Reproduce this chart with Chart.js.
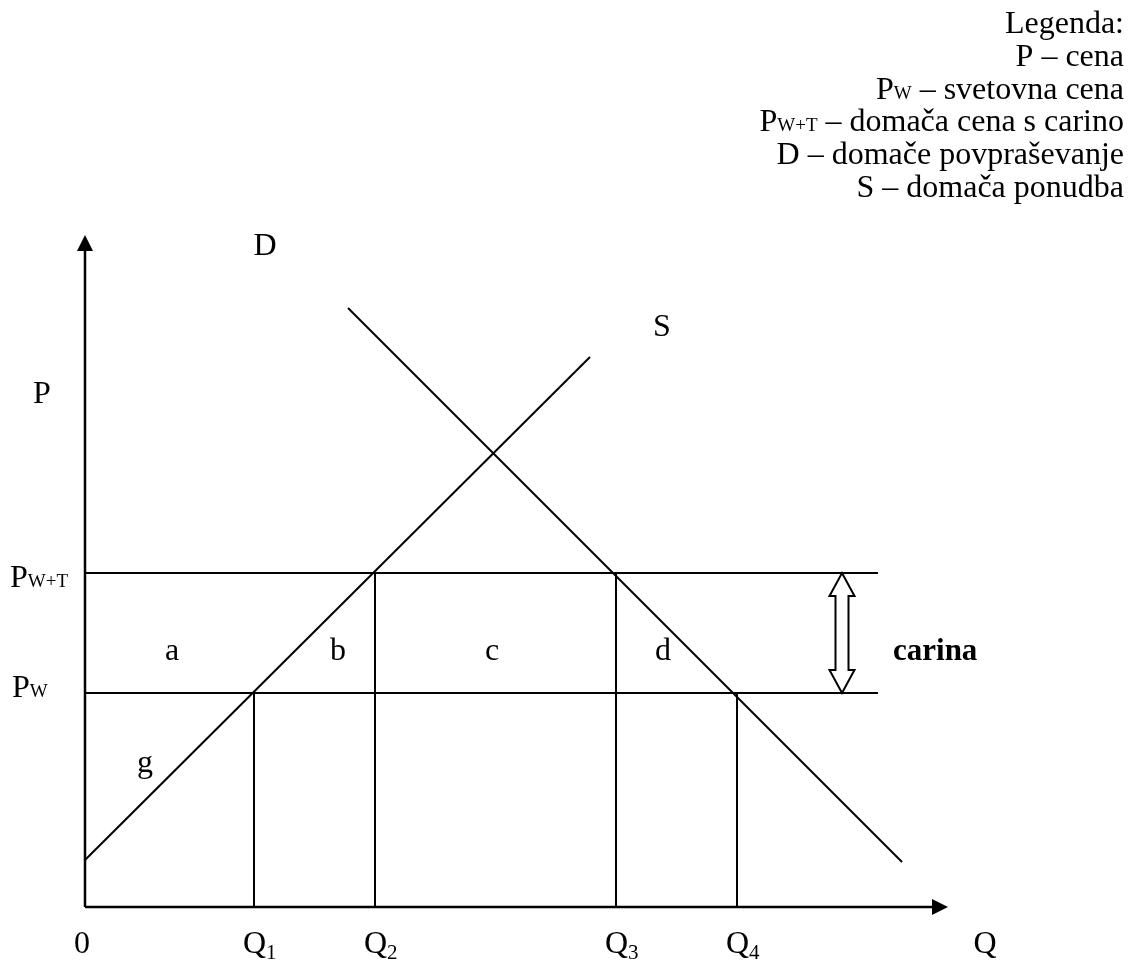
<!DOCTYPE html>
<html>
<head>
<meta charset="utf-8">
<script src="https://cdn.jsdelivr.net/npm/chart.js@4.4.0/dist/chart.umd.min.js"></script>
<style>
  body { margin: 0; background: #fff; }
  canvas { display: block; }
</style>
</head>
<body>
<canvas id="tariffChart" width="1131" height="962"></canvas>
<script>
// quantities on the Q axis (0, Q1..Q4) and the axis name position
const qNames = ['0', 'Q', 'Q', 'Q', 'Q'];
const qSubs = ['', '1', '2', '3', '4'];
const qPos = [0, 16.9, 29.0, 53.1, 65.2];
const qAxisPos = 90.0;

// price levels
const pw = 21.4;      // world price
const pwt = 33.4;     // world price + tariff
const lineEnd = 79.3; // where the price lines stop
const tariffQ = 75.7; // the double arrow "carina"

// curves
const supplyQ = [0, 50.5];
const supplyP = [4.7, 55.0];
const demandQ = [26.3, 81.7];
const demandP = [59.9, 4.5];

// vertical drops from Q1..Q4 up to the price lines
const dropTop = [pw, pwt, pwt, pw];

// letters inside the diagram
const areaLabels = ['a', 'b', 'c', 'd', 'g'];
const areaQ = [8.7, 25.3, 40.7, 57.8, 6.0];
const areaP = [24.7, 24.7, 24.7, 24.7, 13.5];

const legendLines = [
    [['Legenda:', 1]],
    [['P – cena', 1]],
    [['P', 1], ['W', 0.6], [' – svetovna cena', 1]],
    [['P', 1], ['W+T', 0.6], [' – domača cena s carino', 1]],
    [['D – domače povpraševanje', 1]],
    [['S – domača ponudba', 1]]
];

const FONT = '"Liberation Serif", "Times New Roman", serif';
const SIZE = 32;

const zip = (xs, ys) => xs.map((v, i) => ({ x: v, y: ys[i] }));

const lineSet = (data) => ({
    data: data,
    showLine: true,
    borderColor: '#000',
    borderWidth: 2,
    pointRadius: 0,
    fill: false,
    clip: false
});

const datasets = [
    lineSet(zip(supplyQ, supplyP)),
    lineSet(zip(demandQ, demandP)),
    lineSet([{ x: 0, y: pw }, { x: lineEnd, y: pw }]),
    lineSet([{ x: 0, y: pwt }, { x: lineEnd, y: pwt }])
];
qPos.slice(1).forEach((q, i) => {
    datasets.push(lineSet([{ x: q, y: 0 }, { x: q, y: dropTop[i] }]));
});

// draws text made of parts with different sizes on one baseline
const drawParts = (ctx, parts, x, y, align) => {
    let total = 0;
    parts.forEach(p => {
        ctx.font = (p.bold ? 'bold ' : '') + Math.round(SIZE * p.s) + 'px ' + FONT;
        total += ctx.measureText(p.t).width;
    });
    let cx = align === 'right' ? x - total : align === 'center' ? x - total / 2 : x;
    ctx.textAlign = 'left';
    ctx.textBaseline = 'alphabetic';
    parts.forEach(p => {
        ctx.font = (p.bold ? 'bold ' : '') + Math.round(SIZE * p.s) + 'px ' + FONT;
        ctx.fillText(p.t, cx, y + (p.dy || 0));
        cx += ctx.measureText(p.t).width;
    });
};

const diagramPlugin = {
    id: 'diagram',
    afterDatasetsDraw(chart) {
        const { ctx, chartArea: a, scales: { x, y } } = chart;
        ctx.save();
        ctx.fillStyle = '#000';
        ctx.strokeStyle = '#000';

        // axes with arrow heads
        ctx.lineWidth = 2.5;
        ctx.beginPath();
        ctx.moveTo(a.left, a.bottom);
        ctx.lineTo(a.left, a.top + 12);
        ctx.moveTo(a.left, a.bottom);
        ctx.lineTo(a.right - 12, a.bottom);
        ctx.stroke();
        ctx.beginPath();
        ctx.moveTo(a.left, a.top);
        ctx.lineTo(a.left - 8, a.top + 16);
        ctx.lineTo(a.left + 8, a.top + 16);
        ctx.closePath();
        ctx.fill();
        ctx.beginPath();
        ctx.moveTo(a.right, a.bottom);
        ctx.lineTo(a.right - 16, a.bottom - 8);
        ctx.lineTo(a.right - 16, a.bottom + 8);
        ctx.closePath();
        ctx.fill();

        // hollow double arrow for the tariff
        const cx = x.getPixelForValue(tariffQ);
        const top = y.getPixelForValue(pwt);
        const bot = y.getPixelForValue(pw);
        const sw = 6.5, hw = 12.5, hl = 23;
        ctx.lineWidth = 2;
        ctx.fillStyle = '#fff';
        ctx.beginPath();
        ctx.moveTo(cx, top);
        ctx.lineTo(cx + hw, top + hl);
        ctx.lineTo(cx + sw, top + hl);
        ctx.lineTo(cx + sw, bot - hl);
        ctx.lineTo(cx + hw, bot - hl);
        ctx.lineTo(cx, bot);
        ctx.lineTo(cx - hw, bot - hl);
        ctx.lineTo(cx - sw, bot - hl);
        ctx.lineTo(cx - sw, top + hl);
        ctx.lineTo(cx - hw, top + hl);
        ctx.closePath();
        ctx.fill();
        ctx.stroke();
        ctx.fillStyle = '#000';

        // Q axis labels
        const base = y.getPixelForValue(-4.6);
        qPos.forEach((q, i) => {
            const parts = [{ t: qNames[i], s: 1 }];
            if (qSubs[i]) parts.push({ t: qSubs[i], s: 0.66, dy: 6 });
            drawParts(ctx, parts, x.getPixelForValue(q) - 11, base, 'left');
        });
        drawParts(ctx, [{ t: 'Q', s: 1 }], x.getPixelForValue(qAxisPos), base, 'center');

        // P axis labels
        drawParts(ctx, [{ t: 'P', s: 1 }], x.getPixelForValue(-4.3), y.getPixelForValue(50.4), 'center');
        drawParts(ctx, [{ t: 'P', s: 1 }, { t: 'W+T', s: 0.6 }], a.left - 75, y.getPixelForValue(pwt - 1.4), 'left');
        drawParts(ctx, [{ t: 'P', s: 1 }, { t: 'W', s: 0.6 }], a.left - 73, y.getPixelForValue(pw - 0.4), 'left');

        // curve names
        drawParts(ctx, [{ t: 'D', s: 1 }], x.getPixelForValue(18.0), y.getPixelForValue(65.2), 'center');
        drawParts(ctx, [{ t: 'S', s: 1 }], x.getPixelForValue(57.7), y.getPixelForValue(57.1), 'center');

        // area letters
        areaLabels.forEach((t, i) => {
            drawParts(ctx, [{ t: t, s: 1 }], x.getPixelForValue(areaQ[i]), y.getPixelForValue(areaP[i]), 'center');
        });
        drawParts(ctx, [{ t: 'carina', s: 0.96, bold: true }], x.getPixelForValue(80.8), y.getPixelForValue(24.7), 'left');

        // legend text, top right
        legendLines.forEach((line, i) => {
            drawParts(ctx, line.map(p => ({ t: p[0], s: p[1] })), chart.width - 7, 33 + i * 32.8, 'right');
        });
        ctx.restore();
    }
};

new Chart(document.getElementById('tariffChart'), {
    type: 'scatter',
    data: { datasets: datasets },
    options: {
        responsive: false,
        animation: false,
        layout: { padding: { left: 85, right: 183, top: 235, bottom: 55 } },
        plugins: { legend: { display: false }, tooltip: { enabled: false } },
        scales: {
            x: { type: 'linear', min: 0, max: 86.3, display: false },
            y: { type: 'linear', min: 0, max: 67.2, display: false }
        }
    },
    plugins: [diagramPlugin]
});
</script>
</body>
</html>
